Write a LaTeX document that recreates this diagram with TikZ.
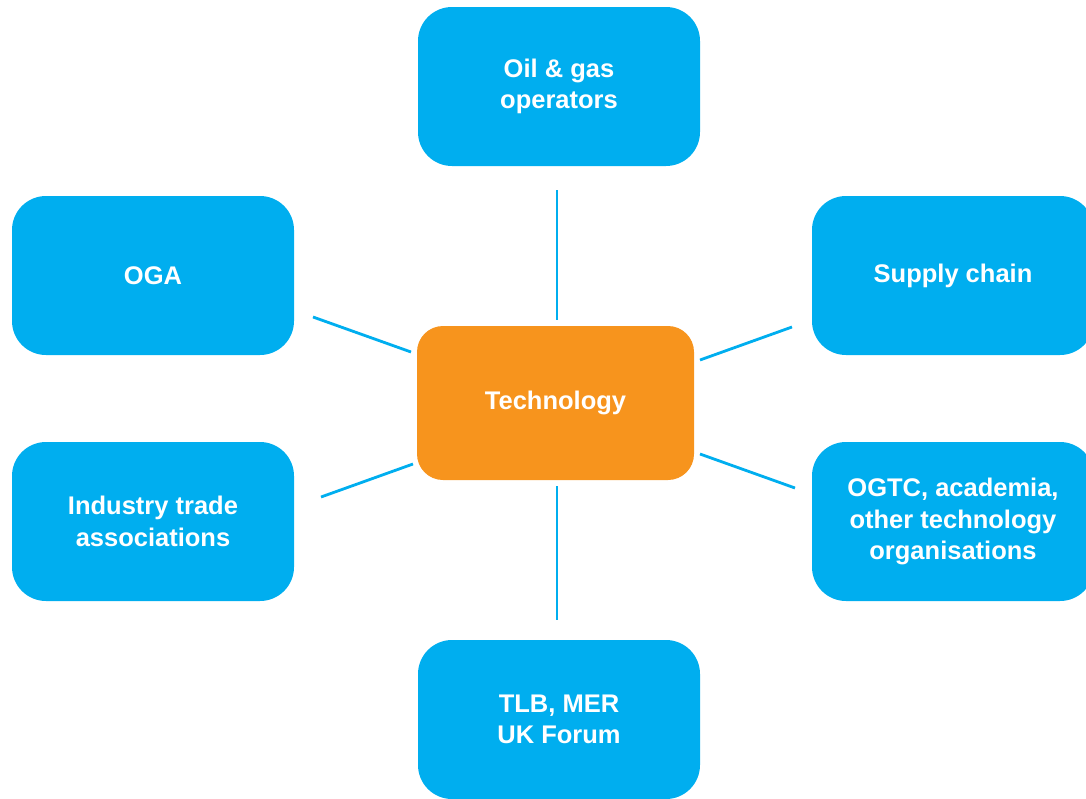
\documentclass[tikz,border=0pt]{standalone}
\usepackage{fontspec}
\setmainfont{Liberation Sans}
\definecolor{boxblue}{HTML}{00AEEF}
\definecolor{boxorange}{HTML}{F7941D}
\tikzset{
  base/.style={rounded corners=34pt, inner sep=0pt, align=center, text=white,
    font=\fontsize{25.5}{31.5}\selectfont\bfseries},
  bluebox/.style={base, fill=boxblue, minimum width=282pt, minimum height=159pt},
  orangebox/.style={base, fill=boxorange, minimum width=277pt, minimum height=154pt, rounded corners=26pt},
  link/.style={draw=boxblue, line width=2.8pt}
}
\begin{document}
\begin{tikzpicture}[x=1pt,y=-1pt]
\useasboundingbox (0,0) rectangle (1086,798);
\clip (0,0) rectangle (1086,798);
\node[bluebox] (oil) at (559,86.5) {Oil \& gas\\operators};
\node[bluebox] (oga) at (153,275.5) {OGA};
\node[bluebox] (supply) at (953,275.5) {Supply chain};
\node[orangebox] (tech) at (555.5,403) {Technology};
\node[bluebox] (ita) at (153,521.5) {Industry trade\\associations};
\node[bluebox] (ogtc) at (953,521.5) {OGTC, academia,\\other technology\\organisations};
\node[bluebox] (tlb) at (559,719.5) {TLB, MER\\UK Forum};
% connector ends
\coordinate (t1) at (557,190); \coordinate (t2) at (557,320);
\coordinate (b1) at (557,486); \coordinate (b2) at (557,620);
\coordinate (lu1) at (313,317); \coordinate (lu2) at (411,352);
\coordinate (ll1) at (321,497); \coordinate (ll2) at (413,464);
\coordinate (ru1) at (700,360); \coordinate (ru2) at (792,327);
\coordinate (rl1) at (700,454); \coordinate (rl2) at (795,488);
\draw[link] (t1) -- (t2);
\draw[link] (b1) -- (b2);
\draw[link] (lu1) -- (lu2);
\draw[link] (ll1) -- (ll2);
\draw[link] (ru1) -- (ru2);
\draw[link] (rl1) -- (rl2);
\end{tikzpicture}
\end{document}
